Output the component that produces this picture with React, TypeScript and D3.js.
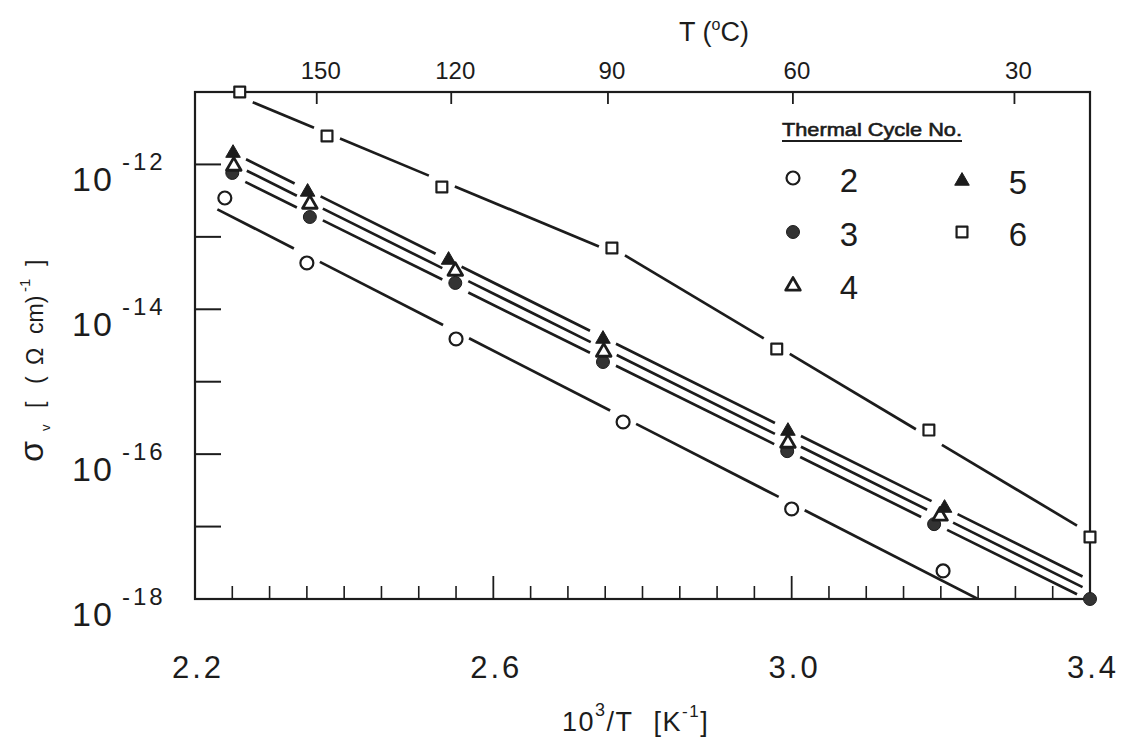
import React from "react";
import * as d3 from "d3";

// Volume conductivity σv vs reciprocal temperature for successive thermal cycles.
// x values: 10^3/T (K^-1); y values: σv in (Ω cm)^-1.
const invT2 = [2.24, 2.35, 2.55, 2.774, 3.0, 3.203];
const sigma2 = [3.44e-13, 4.36e-14, 3.89e-15, 2.78e-16, 1.75e-17, 2.44e-18];

const invT3 = [2.25, 2.354, 2.549, 2.747, 2.994, 3.191, 3.4];
const sigma3 = [7.62e-13, 1.88e-13, 2.31e-14, 1.87e-15, 1.1e-16, 1.08e-17, 1.0e-18];

const invT4 = [2.252, 2.354, 2.549, 2.748, 2.995, 3.199];
const sigma4 = [9.8e-13, 2.93e-13, 3.48e-14, 2.65e-15, 1.47e-16, 1.45e-17];

const invT5 = [2.251, 2.351, 2.54, 2.747, 2.995, 3.205];
const sigma5 = [1.48e-12, 4.3e-13, 4.94e-14, 4.01e-15, 2.15e-16, 1.86e-17];

const invT6 = [2.26, 2.377, 2.531, 2.759, 2.98, 3.184, 3.4];
const sigma6 = [1.0e-11, 2.47e-12, 4.88e-13, 7.02e-14, 2.83e-15, 2.15e-16, 7.18e-18];

// Ranges of 10^3/T covered by each least-squares Arrhenius line (cycle 6 has two regimes)
const fitSpans2 = [[2.23, 3.4]];
const fitSpans3 = [[2.25, 3.4]];
const fitSpans4 = [[2.252, 3.39]];
const fitSpans5 = [[2.251, 3.39]];
const fitSpans6 = [
  [2.26, 2.759],
  [2.759, 3.4],
];

const cycleNames = ["2", "3", "4", "5", "6"];
const yLabelExponents = [-12, -14, -16, -18];
const yTickExponents = [-17, -16, -15, -14, -13, -12];
const xLabelValues = [2.2, 2.6, 3.0, 3.4];
const xMajorTickValues = [2.6, 3.0];
const xMinorTickValues = [
  2.25, 2.3, 2.35, 2.4, 2.45, 2.5, 2.55, 2.65, 2.7, 2.75, 2.8, 2.85, 2.9, 2.95,
  3.05, 3.1, 3.15, 3.2, 3.25, 3.3, 3.35,
];
const topTempValues = [150, 120, 90, 60, 30];

const FONT = "'Liberation Sans', Arial, Helvetica, sans-serif";
const INK = "#1c1c1c";

const W = 1126;
const H = 739;
const PL = 195;
const PR = 1090;
const PT = 92;
const PB = 599;

const x = d3.scaleLinear().domain([2.2, 3.4]).range([PL, PR]);
const y = d3.scaleLog().domain([1e-18, 1e-11]).range([PB, PT]);

type Shape = "openCircle" | "filledCircle" | "openTriangle" | "filledTriangle" | "openSquare";

interface Series {
  name: string;
  xs: number[];
  ys: number[];
  spans: number[][];
  shape: Shape;
}

const series: Series[] = [
  { name: cycleNames[0], xs: invT2, ys: sigma2, spans: fitSpans2, shape: "openCircle" },
  { name: cycleNames[4], xs: invT6, ys: sigma6, spans: fitSpans6, shape: "openSquare" },
  { name: cycleNames[1], xs: invT3, ys: sigma3, spans: fitSpans3, shape: "filledCircle" },
  { name: cycleNames[2], xs: invT4, ys: sigma4, spans: fitSpans4, shape: "openTriangle" },
  { name: cycleNames[3], xs: invT5, ys: sigma5, spans: fitSpans5, shape: "filledTriangle" },
];

// Least-squares fit of log10(σ) against 10^3/T
function fitLine(xs: number[], ys: number[]) {
  const ly = ys.map(Math.log10);
  const mx = d3.mean(xs) as number;
  const my = d3.mean(ly) as number;
  const sxy = d3.sum(xs, (v, i) => (v - mx) * (ly[i] - my));
  const sxx = d3.sum(xs, (v) => (v - mx) * (v - mx));
  const b = sxy / sxx;
  const a = my - b * mx;
  return (t: number) => Math.pow(10, a + b * t);
}

const GAP = 13; // half-width of the break left around a marker
const NEAR = 9; // a marker closer than this to its line interrupts it

function brokenSegments(s: Series): [number, number][][] {
  const out: [number, number][][] = [];
  for (const [x0, x1] of s.spans) {
    const idx = s.xs
      .map((_, i) => i)
      .filter((i) => s.xs[i] >= x0 - 1e-9 && s.xs[i] <= x1 + 1e-9);
    const f = fitLine(
      idx.map((i) => s.xs[i]),
      idx.map((i) => s.ys[i])
    );
    const gaps = idx
      .filter((i) => Math.abs(y(s.ys[i]) - y(f(s.xs[i]))) < NEAR)
      .map((i) => [x(s.xs[i]) - GAP, x(s.xs[i]) + GAP]);
    let pieces: number[][] = [[x(x0), x(x1)]];
    for (const [g0, g1] of gaps) {
      pieces = pieces
        .flatMap(([p0, p1]) => {
          const r: number[][] = [];
          if (g0 > p0) r.push([p0, Math.min(p1, g0)]);
          if (g1 < p1) r.push([Math.max(p0, g1), p1]);
          return r;
        })
        .filter(([a, b]) => b - a > 1);
    }
    for (const [p0, p1] of pieces) {
      const t0 = x.invert(p0);
      const t1 = x.invert(p1);
      out.push([
        [t0, f(t0)],
        [t1, f(t1)],
      ]);
    }
  }
  return out;
}

const lineGen = d3
  .line<[number, number]>()
  .x((d) => x(d[0]))
  .y((d) => y(d[1]));

function symbolPath(shape: Shape): string {
  switch (shape) {
    case "openCircle":
    case "filledCircle":
      return d3.symbol().type(d3.symbolCircle).size(132)() as string;
    case "openTriangle":
    case "filledTriangle":
      return d3.symbol().type(d3.symbolTriangle).size(92)() as string;
    default:
      return d3.symbol().type(d3.symbolSquare).size(118)() as string;
  }
}

function Marker({ shape, cx, cy }: { shape: Shape; cx: number; cy: number }) {
  const filled = shape === "filledCircle" || shape === "filledTriangle";
  const tri = shape === "openTriangle" || shape === "filledTriangle";
  return (
    <path
      d={symbolPath(shape)}
      transform={`translate(${cx},${cy + (tri ? 1 : 0)})`}
      fill={filled ? (shape === "filledCircle" ? "#333" : INK) : "#fff"}
      stroke={INK}
      strokeWidth={filled ? 1 : shape === "openTriangle" ? 2.8 : 2.2}
      strokeLinejoin="round"
    />
  );
}

const kelvinInv = (c: number) => 1000 / (c + 273.15);

export default function App() {
  const legendItems = [
    { shape: "openCircle" as Shape, name: cycleNames[0], lx: 793, ly: 178 },
    { shape: "filledCircle" as Shape, name: cycleNames[1], lx: 793, ly: 232 },
    { shape: "openTriangle" as Shape, name: cycleNames[2], lx: 793, ly: 285 },
    { shape: "filledTriangle" as Shape, name: cycleNames[3], lx: 962, ly: 180 },
    { shape: "openSquare" as Shape, name: cycleNames[4], lx: 962, ly: 232 },
  ];

  return (
    <svg
      width={W}
      height={H}
      viewBox={`0 0 ${W} ${H}`}
      style={{ position: "absolute", left: 0, top: 0, background: "#fff" }}
      fontFamily={FONT}
    >
      <defs>
        <clipPath id="plot-area">
          <rect x={PL} y={PT} width={PR - PL} height={PB - PT} />
        </clipPath>
      </defs>
      <rect width={W} height={H} fill="#fff" />

      {/* frame */}
      <rect
        x={PL}
        y={PT}
        width={PR - PL}
        height={PB - PT}
        fill="none"
        stroke={INK}
        strokeWidth={2.2}
      />

      {/* left decade ticks */}
      {yTickExponents.map((e) => (
        <line
          key={`yt${e}`}
          x1={PL}
          x2={PL + 26}
          y1={y(Math.pow(10, e))}
          y2={y(Math.pow(10, e))}
          stroke={INK}
          strokeWidth={2}
        />
      ))}

      {/* bottom ticks */}
      {xMinorTickValues.map((v) => (
        <line key={`xm${v}`} x1={x(v)} x2={x(v)} y1={PB} y2={PB - 13} stroke={INK} strokeWidth={1.6} />
      ))}
      {xMajorTickValues.map((v) => (
        <line key={`xM${v}`} x1={x(v)} x2={x(v)} y1={PB} y2={PB - 23} stroke={INK} strokeWidth={1.8} />
      ))}

      {/* top temperature ticks */}
      {topTempValues.map((c) => (
        <line
          key={`tt${c}`}
          x1={x(kelvinInv(c))}
          x2={x(kelvinInv(c))}
          y1={PT}
          y2={PT + 12}
          stroke={INK}
          strokeWidth={1.8}
        />
      ))}

      {/* y tick labels */}
      {yLabelExponents.map((e) => {
        const ty = y(Math.pow(10, e));
        return (
          <g key={`yl${e}`} fill={INK}>
            <text x={72} y={ty + 27} fontSize={34} letterSpacing={2}>
              10
            </text>
            <text x={122} y={ty + 6} fontSize={24} letterSpacing={3}>
              {`-${-e}`}
            </text>
          </g>
        );
      })}

      {/* x tick labels */}
      {xLabelValues.map((v) => (
        <text
          key={`xl${v}`}
          x={x(v) + 3}
          y={678}
          fontSize={31}
          letterSpacing={3}
          textAnchor="middle"
          fill={INK}
        >
          {v.toFixed(1)}
        </text>
      ))}

      {/* top temperature labels */}
      {topTempValues.map((c) => (
        <text
          key={`tl${c}`}
          x={x(kelvinInv(c)) + 4}
          y={79}
          fontSize={24}
          textAnchor="middle"
          fill={INK}
        >
          {c}
        </text>
      ))}
      <text x={714} y={41} fontSize={27} textAnchor="middle" fill={INK}>
        T (
        <tspan fontSize={16} dy={-11}>
          o
        </tspan>
        <tspan dy={11}>C)</tspan>
      </text>

      {/* x axis title */}
      <text x={562} y={731} fontSize={27} fill={INK} letterSpacing={1.5}>
        10
        <tspan fontSize={18} dy={-15}>
          3
        </tspan>
        <tspan dy={15}>/T</tspan>
        <tspan dx={20}>[K</tspan>
        <tspan fontSize={17} dy={-14}>
          -1
        </tspan>
        <tspan dy={14}>]</tspan>
      </text>

      {/* y axis title */}
      <text transform="translate(43,462) rotate(-90)" fill={INK}>
        <tspan x={0} fontSize={34}>
          σ
        </tspan>
        <tspan x={31} dy={7} fontSize={13}>
          v
        </tspan>
        <tspan x={54} dy={-7} fontSize={23}>
          [
        </tspan>
        <tspan x={78} fontSize={23}>
          (
        </tspan>
        <tspan x={97} fontSize={23}>
          Ω
        </tspan>
        <tspan x={128} fontSize={23}>
          cm)
        </tspan>
        <tspan x={170} dy={-13} fontSize={15}>
          -1
        </tspan>
        <tspan x={196} dy={13} fontSize={23}>
          ]
        </tspan>
      </text>

      {/* fitted lines */}
      <g clipPath="url(#plot-area)" stroke={INK} strokeWidth={2.7} fill="none" strokeLinecap="butt">
        {series.map((s) =>
          brokenSegments(s).map((seg, i) => (
            <path key={`ln${s.name}-${i}`} d={lineGen(seg) as string} />
          ))
        )}
      </g>

      {/* data markers */}
      {series.map((s) => (
        <g key={`mk${s.name}`}>
          {s.xs.map((v, i) => (
            <Marker key={i} shape={s.shape} cx={x(v)} cy={y(s.ys[i])} />
          ))}
        </g>
      ))}

      {/* legend */}
      <text
        x={782}
        y={136}
        fontSize={19}
        fill={INK}
        stroke={INK}
        strokeWidth={0.6}
        textLength={180}
        lengthAdjust="spacingAndGlyphs"
      >
        Thermal Cycle No.
      </text>
      <line x1={782} x2={962} y1={141} y2={141} stroke={INK} strokeWidth={2.2} />
      {legendItems.map((it) => (
        <g key={`lg${it.name}`}>
          <Marker shape={it.shape} cx={it.lx} cy={it.ly} />
          <text x={it.lx + 56} y={it.ly + 14} fontSize={33} textAnchor="middle" fill={INK}>
            {it.name}
          </text>
        </g>
      ))}
    </svg>
  );
}
